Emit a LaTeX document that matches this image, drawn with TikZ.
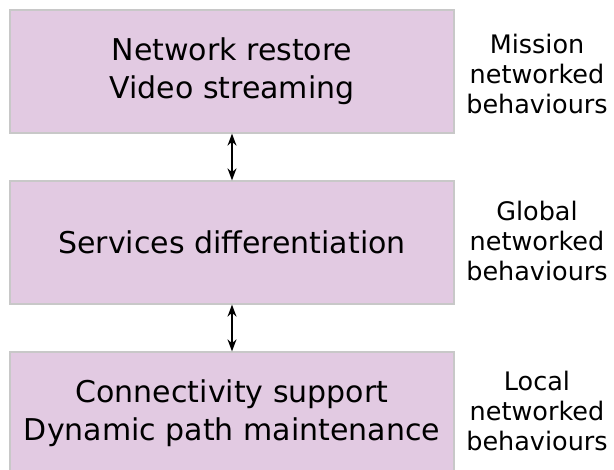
\documentclass[tikz,border=0pt]{standalone}
\usepackage{fontspec}
\setmainfont{DejaVu Sans}
\usetikzlibrary{arrows.meta}
\definecolor{boxfill}{RGB}{226,202,226}
\definecolor{boxline}{RGB}{200,200,200}
\tikzset{
  layerbox/.style={draw=boxline, line width=1.3pt, fill=boxfill, minimum width=444pt, minimum height=123pt, inner sep=0pt, align=center, font=\fontsize{30}{38}\selectfont},
  sidelabel/.style={align=center, inner sep=0pt, font=\fontsize{25.5}{30}\selectfont},
  link/.style={{Stealth[length=12pt,width=9pt]}-{Stealth[length=12pt,width=9pt]}, line width=1.5pt}
}
\begin{document}
\begin{tikzpicture}[x=1pt,y=-1pt]
\useasboundingbox (0,0) rectangle (614,470);
\node[layerbox] (b1) at (232,71.5) {Network restore\\Video streaming};
\node[layerbox] (b2) at (232,242.5) {Services differentiation};
\node[layerbox] (b3) at (232,413.5) {Connectivity support\\Dynamic path maintenance};
\node[sidelabel] (l1) at (537,74) {Mission\\networked\\behaviours};
\node[sidelabel] (l2) at (537,241) {Global\\networked\\behaviours};
\node[sidelabel] (l3) at (537,411) {Local\\networked\\behaviours};
\draw[link] (b1.south) -- (b2.north);
\draw[link] (b2.south) -- (b3.north);
\end{tikzpicture}
\end{document}
